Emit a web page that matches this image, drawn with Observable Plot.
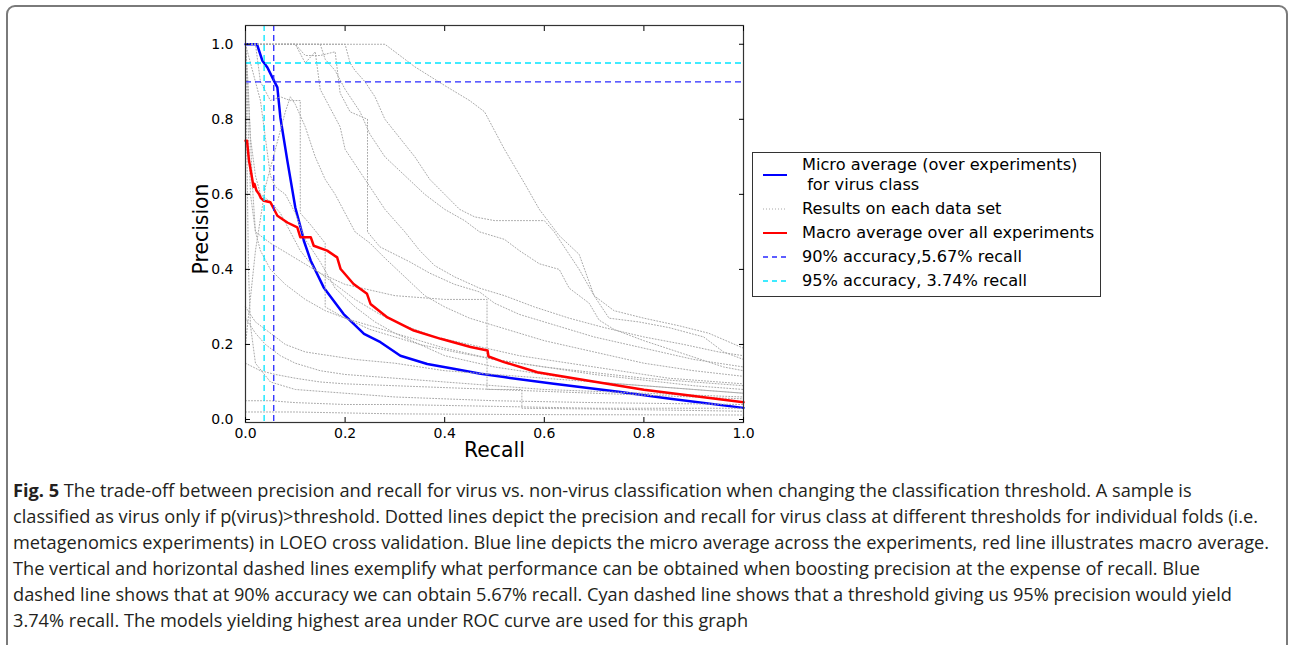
<!DOCTYPE html>
<html>
<head>
<meta charset="utf-8">
<script src="https://cdn.jsdelivr.net/npm/d3@7"></script>
<script src="https://cdn.jsdelivr.net/npm/@observablehq/plot@0.6"></script>
<style>
  html, body { margin: 0; padding: 0; background: #fff; }
  #page { position: relative; width: 1292px; height: 645px; overflow: hidden; }
  #border { position: absolute; left: 6px; top: 5px; width: 1282px; height: 700px; border: 2px solid #7a7a7a; border-radius: 9px; box-sizing: border-box; }
  #chart { position: absolute; left: 0; top: 0; }
  #legend { position: absolute; left: 752px; top: 152px; width: 349px; height: 145px; border: 1px solid #333; box-sizing: border-box; background: #fff; font-family: "DejaVu Sans", sans-serif; font-size: 16.2px; color: #000; }
  #legend svg { position: absolute; left: 0; top: 0; }
  #legend .t { position: absolute; left: 49px; white-space: pre; line-height: 20px; }
  #caption { position: absolute; left: 13px; top: 477px; font-family: "Open Sans", sans-serif; font-size: 18.2px; line-height: 26px; color: #231f20; white-space: nowrap; }
</style>
</head>
<body>
<div id="page">
  <div id="border"></div>
  <div id="chart"></div>
  <div id="legend"></div>
  <div id="caption"></div>
</div>
<script>
// ---- data ----
const xTicks = [0, 0.2, 0.4, 0.6, 0.8, 1.0];
const yTicks = [0, 0.2, 0.4, 0.6, 0.8, 1.0];

const microAverage = [[0,1.0],[0.023,1.0],[0.034,0.956],[0.044,0.938],[0.057,0.903],[0.064,0.885],[0.070,0.805],[0.084,0.690],[0.100,0.565],[0.114,0.495],[0.117,0.477],[0.131,0.423],[0.157,0.352],[0.197,0.281],[0.238,0.228],[0.271,0.206],[0.311,0.170],[0.365,0.148],[0.418,0.135],[0.472,0.122],[0.519,0.113],[0.619,0.095],[0.753,0.073],[0.853,0.055],[1.0,0.031]];

const macroAverage = [[0,0.743],[0.003,0.743],[0.007,0.69],[0.013,0.645],[0.016,0.62],[0.018,0.628],[0.022,0.61],[0.027,0.601],[0.031,0.59],[0.037,0.583],[0.050,0.579],[0.064,0.543],[0.084,0.525],[0.104,0.512],[0.110,0.486],[0.131,0.486],[0.137,0.463],[0.164,0.450],[0.184,0.432],[0.191,0.401],[0.217,0.361],[0.244,0.335],[0.251,0.308],[0.285,0.272],[0.338,0.237],[0.392,0.215],[0.452,0.193],[0.486,0.184],[0.488,0.168],[0.519,0.153],[0.586,0.126],[0.686,0.104],[0.80,0.079],[0.92,0.059],[1.0,0.046]];

const fold01 = [[0,1],[0.28,1],[0.3,0.98],[0.34,0.94],[0.4,0.89],[0.45,0.85],[0.48,0.82],[0.5,0.77],[0.52,0.72],[0.56,0.63],[0.59,0.56],[0.63,0.49],[0.67,0.44],[0.7,0.33],[0.73,0.27],[0.79,0.26],[0.85,0.245],[0.92,0.22],[0.96,0.18],[1.0,0.16]];
const fold02 = [[0,1],[0.2,1],[0.21,0.95],[0.22,0.93],[0.24,0.9],[0.26,0.86],[0.28,0.8],[0.31,0.75],[0.34,0.7],[0.37,0.64],[0.4,0.6],[0.43,0.56],[0.46,0.54],[0.5,0.53],[0.55,0.53],[0.6,0.53],[0.62,0.5],[0.65,0.44],[0.67,0.4],[0.7,0.33],[0.74,0.29],[0.8,0.27],[0.87,0.25],[0.93,0.23],[1.0,0.19]];
const fold03 = [[0,1],[0.15,1],[0.16,0.96],[0.18,0.93],[0.2,0.88],[0.23,0.82],[0.25,0.76],[0.28,0.7],[0.32,0.65],[0.36,0.6],[0.4,0.56],[0.44,0.53],[0.47,0.5],[0.52,0.48],[0.55,0.45],[0.59,0.415],[0.63,0.4],[0.65,0.35],[0.69,0.31],[0.71,0.265],[0.74,0.24],[0.8,0.21],[0.88,0.175],[0.96,0.14],[1.0,0.13]];
const fold04 = [[0,1],[0.1,1],[0.12,0.97],[0.15,0.97],[0.18,0.98],[0.19,0.87],[0.21,0.82],[0.245,0.8],[0.245,0.5],[0.27,0.46],[0.3,0.44],[0.33,0.42],[0.37,0.39],[0.42,0.36],[0.47,0.34],[0.5,0.31],[0.55,0.28],[0.6,0.26],[0.7,0.22],[0.8,0.19],[0.9,0.16],[1.0,0.14]];
const fold05 = [[0,0.2],[0.02,0.45],[0.04,0.62],[0.06,0.72],[0.08,0.82],[0.09,0.86],[0.1,0.84],[0.12,0.78],[0.14,0.7],[0.16,0.64],[0.18,0.6],[0.2,0.55],[0.22,0.5],[0.25,0.47],[0.28,0.43],[0.32,0.38],[0.36,0.33],[0.4,0.3],[0.45,0.27],[0.5,0.25],[0.6,0.21],[0.7,0.18],[0.8,0.15],[0.9,0.13],[1.0,0.115]];
const fold06 = [[0,1],[0.005,0.9],[0.01,0.75],[0.02,0.65],[0.03,0.6],[0.05,0.58],[0.07,0.55],[0.09,0.5],[0.11,0.45],[0.14,0.4],[0.18,0.36],[0.22,0.32],[0.27,0.28],[0.32,0.25],[0.38,0.22],[0.45,0.2],[0.55,0.17],[0.65,0.15],[0.75,0.13],[0.85,0.11],[1.0,0.095]];
const fold07 = [[0,1],[0.008,0.8],[0.015,0.6],[0.02,0.5],[0.03,0.45],[0.05,0.4],[0.08,0.36],[0.12,0.32],[0.16,0.29],[0.2,0.27],[0.25,0.25],[0.3,0.23],[0.35,0.21],[0.4,0.19],[0.5,0.16],[0.6,0.14],[0.7,0.12],[0.8,0.105],[0.9,0.09],[1.0,0.08]];
const fold08 = [[0,0.3],[0.01,0.28],[0.02,0.26],[0.04,0.24],[0.06,0.22],[0.08,0.2],[0.12,0.18],[0.17,0.17],[0.22,0.16],[0.3,0.15],[0.4,0.13],[0.5,0.12],[0.6,0.11],[0.7,0.1],[0.8,0.09],[0.9,0.08],[1.0,0.07]];
const fold09 = [[0,1],[0.01,0.6],[0.02,0.5],[0.05,0.47],[0.1,0.43],[0.15,0.39],[0.2,0.36],[0.3,0.33],[0.4,0.32],[0.485,0.32],[0.485,0.08],[0.555,0.08],[0.555,0.03],[0.7,0.028],[0.85,0.025],[1.0,0.022]];
const fold10 = [[0,0.15],[0.03,0.13],[0.06,0.12],[0.1,0.11],[0.15,0.1],[0.2,0.095],[0.3,0.09],[0.4,0.085],[0.5,0.08],[0.6,0.075],[0.7,0.07],[0.8,0.065],[0.9,0.06],[1.0,0.055]];
const fold11 = [[0,1],[0.003,0.7],[0.006,0.4],[0.01,0.25],[0.02,0.15],[0.05,0.1],[0.1,0.08],[0.2,0.07],[0.3,0.06],[0.5,0.05],[0.7,0.045],[1.0,0.04]];
const fold12 = [[0,0.05],[0.05,0.05],[0.1,0.045],[0.2,0.04],[0.3,0.04],[0.5,0.035],[0.7,0.03],[1.0,0.03]];
const fold13 = [[0,0.02],[0.1,0.02],[0.3,0.015],[0.6,0.013],[1.0,0.012]];
const fold14 = [[0,1],[0.01,0.95],[0.02,0.9],[0.03,0.85],[0.04,0.75],[0.05,0.65],[0.06,0.62],[0.08,0.6],[0.1,0.55],[0.12,0.48],[0.15,0.42],[0.18,0.35],[0.22,0.3],[0.26,0.26],[0.3,0.23],[0.35,0.2],[0.42,0.18],[0.5,0.16],[0.6,0.14],[0.7,0.125],[0.8,0.11],[0.9,0.1],[1.0,0.09]];
const fold15 = [[0,1],[0.02,1],[0.03,0.9],[0.05,0.85],[0.07,0.86],[0.09,0.85],[0.11,0.85],[0.11,0.55],[0.13,0.52],[0.16,0.47],[0.16,0.3],[0.2,0.27],[0.25,0.24],[0.3,0.22],[0.35,0.2],[0.4,0.17],[0.5,0.14],[0.6,0.12],[0.7,0.1],[0.8,0.09],[0.9,0.08],[1.0,0.07]];
const fold16 = [[0,0.27],[0.02,0.23],[0.04,0.2],[0.07,0.17],[0.1,0.15],[0.15,0.13],[0.2,0.12],[0.3,0.11],[0.4,0.1],[0.5,0.09],[0.6,0.08],[0.8,0.07],[1.0,0.06]];
const fold17 = [[0,1],[0.1,1],[0.12,0.95],[0.14,0.98],[0.15,0.88],[0.17,0.83],[0.19,0.78],[0.2,0.72],[0.22,0.68],[0.25,0.62],[0.28,0.56],[0.32,0.5],[0.35,0.45],[0.38,0.41],[0.42,0.38],[0.47,0.35],[0.52,0.33],[0.58,0.3],[0.65,0.27],[0.72,0.245],[0.8,0.22],[0.88,0.2],[0.95,0.18],[1.0,0.17]];

const recall90 = 0.0567;     // 90% accuracy -> 5.67% recall
const precision90 = 0.90;
const recall95 = 0.0374;     // 95% accuracy -> 3.74% recall
const precision95 = 0.95;

const legendLabels = ["Micro average (over experiments)\n for virus class", "Results on each data set", "Macro average over all experiments", "90% accuracy,5.67% recall", "95% accuracy, 3.74% recall"];

const captionLines = [
  "The trade-off between precision and recall for virus vs. non-virus classification when changing the classification threshold. A sample is",
  "classified as virus only if p(virus)>threshold. Dotted lines depict the precision and recall for virus class at different thresholds for individual folds (i.e.",
  "metagenomics experiments) in LOEO cross validation. Blue line depicts the micro average across the experiments, red line illustrates macro average.",
  "The vertical and horizontal dashed lines exemplify what performance can be obtained when boosting precision at the expense of recall. Blue",
  "dashed line shows that at 90% accuracy we can obtain 5.67% recall. Cyan dashed line shows that a threshold giving us 95% precision would yield",
  "3.74% recall. The models yielding highest area under ROC curve are used for this graph"
];

// ---- build ----
const folds = [fold01, fold02, fold03, fold04, fold05, fold06, fold07, fold08, fold09, fold10, fold11, fold12, fold13, fold14, fold15, fold16, fold17];
const foldRows = folds.flatMap((f, i) => f.map(([r, p]) => ({fold: i, recall: r, precision: p})));
const toRows = arr => arr.map(([r, p]) => ({recall: r, precision: p}));

const fmt = d3.format(".1f");
const dash = "6,4";

const chart = Plot.plot({
  width: 760,
  height: 470,
  marginLeft: 245,
  marginRight: 17,
  marginTop: 25,
  marginBottom: 48,
  style: {fontFamily: "DejaVu Sans, sans-serif", background: "transparent", color: "#000", overflow: "visible"},
  x: {domain: [0, 1]},
  y: {domain: [-0.008, 1.05]},
  marks: [
    Plot.line(toRows(microAverage), {x: "recall", y: "precision", stroke: "#0000ff", strokeWidth: 2.5}),
    Plot.line(foldRows, {x: "recall", y: "precision", z: "fold", stroke: "#a8a8a8", strokeWidth: 1, strokeDasharray: "1,2"}),
    Plot.line(toRows(macroAverage), {x: "recall", y: "precision", stroke: "#ff0000", strokeWidth: 2.5}),
    Plot.ruleX([recall90], {stroke: "#2828ff", strokeWidth: 1.3, strokeDasharray: dash}),
    Plot.ruleY([precision90], {stroke: "#2828ff", strokeWidth: 1.3, strokeDasharray: dash}),
    Plot.ruleX([recall95], {stroke: "#00e5ff", strokeWidth: 1.3, strokeDasharray: dash}),
    Plot.ruleY([precision95], {stroke: "#00e5ff", strokeWidth: 1.3, strokeDasharray: dash}),
    Plot.frame({stroke: "#333", strokeWidth: 1.2}),
    Plot.axisX(xTicks, {anchor: "bottom", tickSize: -5, tickPadding: 11, tickFormat: fmt, fontSize: 14, label: null}),
    Plot.axisX(xTicks, {anchor: "top", tickSize: -5, tickFormat: () => "", label: null}),
    Plot.axisY(yTicks, {anchor: "left", tickSize: -5, tickPadding: 17, tickFormat: fmt, fontSize: 14, label: null}),
    Plot.axisY(yTicks, {anchor: "right", tickSize: -5, tickFormat: () => "", label: null}),
    Plot.text(["Recall"], {frameAnchor: "bottom", dy: 34, fontSize: 20.4}),
    Plot.text(["Precision"], {frameAnchor: "left", textAnchor: "middle", dx: -44, dy: 5, rotate: -90, fontSize: 20.4})
  ]
});
document.getElementById("chart").appendChild(chart);

// legend
const legend = document.getElementById("legend");
const ns = "http://www.w3.org/2000/svg";
const lsvg = document.createElementNS(ns, "svg");
lsvg.setAttribute("width", 349); lsvg.setAttribute("height", 145);
const swatches = [
  {y: 22, stroke: "#0000ff", w: 2, dashArr: null},
  {y: 56, stroke: "#a8a8a8", w: 1, dashArr: "1,2"},
  {y: 80, stroke: "#ff0000", w: 2, dashArr: null},
  {y: 104, stroke: "#2828ff", w: 1.3, dashArr: "5,4"},
  {y: 128, stroke: "#00e5ff", w: 1.3, dashArr: "5,4"}
];
swatches.forEach(s => {
  const l = document.createElementNS(ns, "line");
  l.setAttribute("x1", 10); l.setAttribute("x2", 34);
  l.setAttribute("y1", s.y); l.setAttribute("y2", s.y);
  l.setAttribute("stroke", s.stroke); l.setAttribute("stroke-width", s.w);
  if (s.dashArr) l.setAttribute("stroke-dasharray", s.dashArr);
  lsvg.appendChild(l);
});
legend.appendChild(lsvg);
const tops = [2, 46, 70, 94, 118];
legendLabels.forEach((t, i) => {
  const d = document.createElement("div");
  d.className = "t";
  d.style.top = tops[i] + "px";
  d.textContent = t;
  legend.appendChild(d);
});

// caption
const cap = document.getElementById("caption");
cap.innerHTML = captionLines.map((l, i) => (i === 0 ? "<b>Fig. 5</b> " : "") + l.replace(/&/g, "&amp;").replace(/</g, "&lt;").replace(/>/g, "&gt;")).join("<br>");
</script>
</body>
</html>
